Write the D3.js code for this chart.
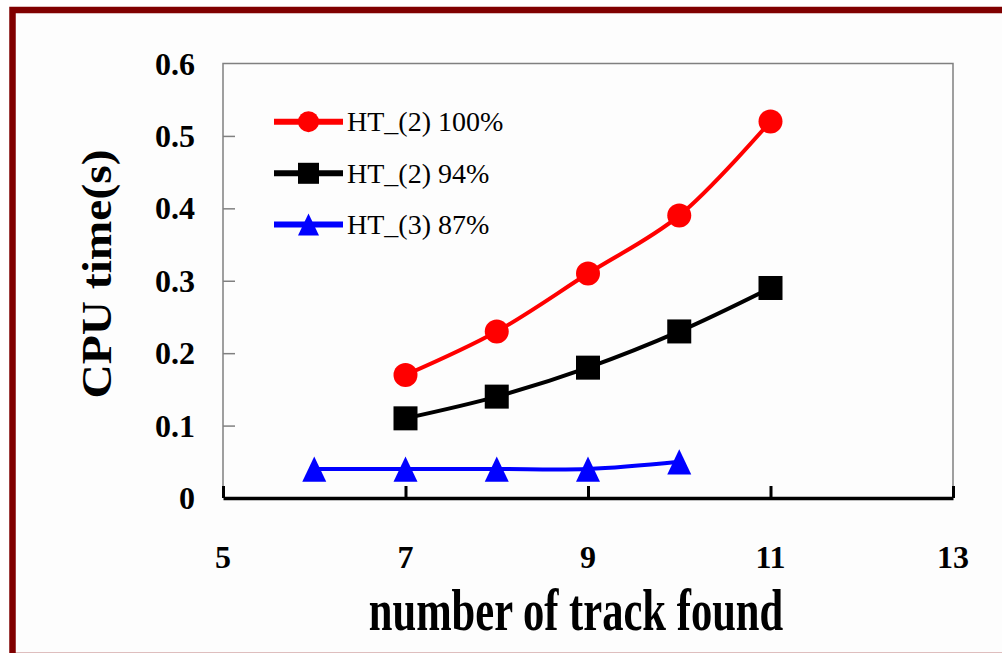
<!DOCTYPE html>
<html>
<head>
<meta charset="utf-8">
<script src="https://cdn.jsdelivr.net/npm/d3@7/dist/d3.min.js"></script>
<style>
html,body{margin:0;padding:0;background:#fff;}
svg{display:block;}
svg text{font-family:"Liberation Serif","Times New Roman",Times,serif;}
</style>
</head>
<body>
<script>
// ---- data ----
const xTickValues = [5, 7, 9, 11, 13];
const yTickValues = [0, 0.1, 0.2, 0.3, 0.4, 0.5, 0.6];
const seriesNames = ["HT_(2) 100%", "HT_(2) 94%", "HT_(3) 87%"];
const seriesColors = ["#ff0000", "#000000", "#0000ff"];
const seriesMarkers = ["circle", "square", "triangle"];
const xRed = [7, 8, 9, 10, 11];
const yRed = [0.17, 0.23, 0.31, 0.39, 0.52];
const xBlack = [7, 8, 9, 10, 11];
const yBlack = [0.11, 0.14, 0.18, 0.23, 0.29];
const xBlue = [6, 7, 8, 9, 10];
const yBlue = [0.04, 0.04, 0.04, 0.04, 0.05];
const xTitle = "number of track found";
const yTitle = "CPU time(s)";

const series = [
  {name: seriesNames[0], color: seriesColors[0], marker: seriesMarkers[0], pts: xRed.map((x, i) => [x, yRed[i]])},
  {name: seriesNames[1], color: seriesColors[1], marker: seriesMarkers[1], pts: xBlack.map((x, i) => [x, yBlack[i]])},
  {name: seriesNames[2], color: seriesColors[2], marker: seriesMarkers[2], pts: xBlue.map((x, i) => [x, yBlue[i]])}
];

const W = 1002, H = 653;
const svg = d3.select("body").append("svg").attr("width", W).attr("height", H);

// frame
svg.append("rect").attr("x", 0).attr("y", 0).attr("width", W).attr("height", H).attr("fill", "#ffffff");
svg.append("rect").attr("x", 12.5).attr("y", 10).attr("width", W + 20).attr("height", 652 - 10 + 4)
  .attr("fill", "#fdfdfd").attr("stroke", "#800000").attr("stroke-width", 6.5);

const x = d3.scaleLinear().domain([5, 13]).range([223, 953]);
const y = d3.scaleLinear().domain([0, 0.6]).range([498, 63.5]);

// plot border (gray)
svg.append("path")
  .attr("d", `M${x(5)},${y(0)}V${y(0.6)}H${x(13)}V${y(0)}`)
  .attr("fill", "none").attr("stroke", "#808080").attr("stroke-width", 1.5);

// y axis ticks (inside, gray)
const yAxis = d3.axisRight(y).tickValues(yTickValues.filter(v => v > 0 && v < 0.6)).tickSize(12).tickFormat("");
svg.append("g").attr("transform", `translate(${x(5)},0)`).call(yAxis)
  .call(g => g.select(".domain").remove())
  .call(g => g.selectAll("line").attr("stroke", "#808080").attr("stroke-width", 1.5));

// y tick labels
svg.append("g").selectAll("text").data(yTickValues).join("text")
  .attr("x", 195).attr("y", d => y(d) + 11)
  .attr("text-anchor", "end")
  .style("font-weight", "bold").style("font-size", "32px")
  .attr("fill", "#000")
  .text(d => d === 0 ? "0" : d.toFixed(1));

// x axis (black thick, ticks inward)
const xAxis = d3.axisTop(x).tickValues(xTickValues).tickSize(12).tickSizeOuter(0).tickFormat("");
svg.append("g").attr("transform", `translate(0,${y(0)})`).call(xAxis)
  .call(g => g.select(".domain").attr("stroke", "#000").attr("stroke-width", 3.5))
  .call(g => g.selectAll("line").attr("stroke", "#000").attr("stroke-width", 3));

// x tick labels
svg.append("g").selectAll("text").data(xTickValues).join("text")
  .attr("x", d => x(d)).attr("y", 568)
  .attr("text-anchor", "middle")
  .style("font-weight", "bold").style("font-size", "32px")
  .attr("fill", "#000")
  .text(d => d);

// titles
svg.append("text")
  .attr("transform", `translate(576,630) scale(0.71,1)`)
  .attr("text-anchor", "middle")
  .style("font-weight", "bold").style("font-size", "60px")
  .attr("fill", "#000").text(xTitle);

svg.append("text")
  .attr("transform", `translate(111,274) rotate(-90) scale(1.13,1)`)
  .attr("text-anchor", "middle")
  .style("font-weight", "bold").style("font-size", "42px")
  .attr("fill", "#000").text(yTitle);

// marker drawing
function drawMarker(g, type, cx, cy, size, color) {
  if (type === "circle") {
    g.append("circle").attr("cx", cx).attr("cy", cy).attr("r", size / 2).attr("fill", color);
  } else if (type === "square") {
    g.append("rect").attr("x", cx - size / 2).attr("y", cy - size / 2).attr("width", size).attr("height", size).attr("fill", color);
  } else {
    const h = size * 1.05;
    g.append("path").attr("d", `M${cx},${cy - h / 2}L${cx + size / 2},${cy + h / 2}L${cx - size / 2},${cy + h / 2}Z`).attr("fill", color);
  }
}

const line = d3.line().x(d => x(d[0])).y(d => y(d[1])).curve(d3.curveCatmullRom.alpha(0.5));

const gSeries = svg.append("g");
[2, 1, 0].forEach(i => {
  const s = series[i];
  gSeries.append("path").attr("d", line(s.pts)).attr("fill", "none")
    .attr("stroke", s.color).attr("stroke-width", 4);
  s.pts.forEach(p => drawMarker(gSeries, s.marker, x(p[0]), y(p[1]), 24, s.color));
});

// legend
const legendY = [121.7, 173.3, 224.5];
const gLeg = svg.append("g");
series.forEach((s, i) => {
  const ly = legendY[i];
  gLeg.append("line").attr("x1", 274).attr("x2", 343).attr("y1", ly).attr("y2", ly)
    .attr("stroke", s.color).attr("stroke-width", 6);
  drawMarker(gLeg, s.marker, 308.5, ly, 21, s.color);
  gLeg.append("text").attr("x", 347).attr("y", ly + 9.5)
    .style("font-size", "28px").attr("fill", "#000")
    .text(s.name);
});
</script>
</body>
</html>
